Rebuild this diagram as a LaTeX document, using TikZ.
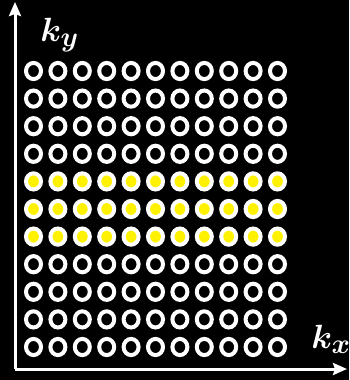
\documentclass[tikz,border=0pt]{standalone}
\usepackage{amsmath}
\usetikzlibrary{arrows.meta,shapes.geometric}
\begin{document}
\begin{tikzpicture}[x=1pt,y=-1pt,
  ring/.style={ellipse,draw=white,line width=4pt,fill=black,
    minimum width=15pt,minimum height=16.2pt,inner sep=0pt},
  hot/.style={ring,fill=yellow},
  axis/.style={draw=white,line width=3pt,
    -{Stealth[length=14pt,width=12pt,inset=2pt]}},
  klabel/.style={text=white,inner sep=0pt,anchor=base west,
    font=\Huge\boldmath,scale=1.35,transform shape}
]
  \useasboundingbox (0,0) rectangle (349,380);
  \fill[black] (0,0) rectangle (349,380);

  % axes
  \coordinate (origin) at (15,369);
  \coordinate (ytip) at (15,2);
  \coordinate (xtip) at (347,369);
  \draw[axis] (origin) -- (ytip);
  \draw[axis] (origin) -- (xtip);
  \node[klabel] (ky) at (40,41) {$k_y$};
  \node[klabel] (kx) at (311,348) {$k_x$};

  % sample grid, middle rows filled
  \foreach \r in {0,...,10}{
    \foreach \c in {0,...,10}{
      \ifnum\r>3 \ifnum\r<7 \def\st{hot}\else\def\st{ring}\fi\else\def\st{ring}\fi
      \node[\st] (c\r-\c) at ({33.5+24.4*\c},{71+27.6*\r}) {};
    }
  }
\end{tikzpicture}
\end{document}
